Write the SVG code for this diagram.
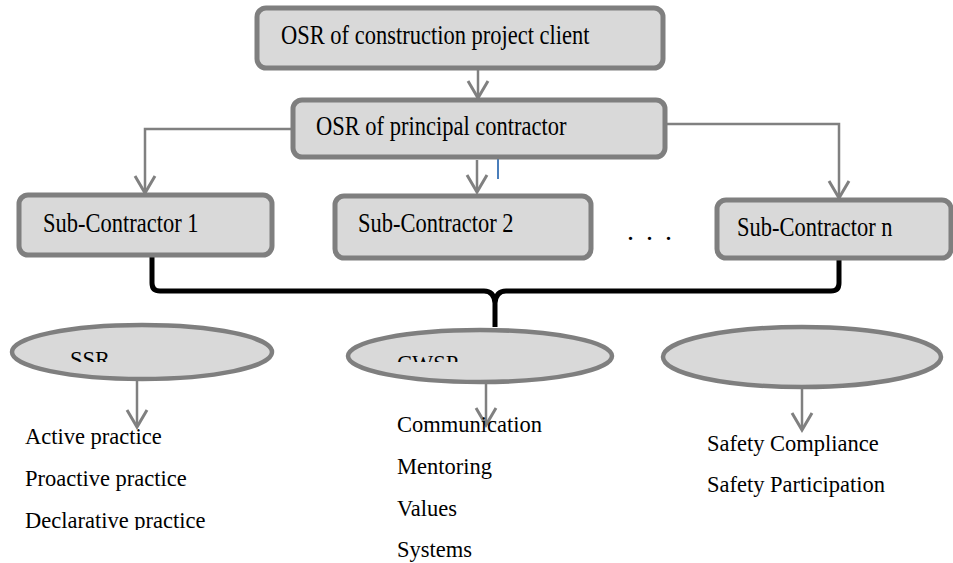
<svg xmlns="http://www.w3.org/2000/svg" width="953" height="563" viewBox="0 0 953 563">
<style>
.box{fill:#d9d9d9;stroke:#7f7f7f;stroke-width:5}
.ell{fill:#d9d9d9;stroke:#7f7f7f;stroke-width:4.5}
.t{font-family:"Liberation Serif","Times New Roman",serif;font-size:22.5px;fill:#000}
.c{fill:none;stroke:#808080;stroke-width:2.5}
.ar{marker-end:url(#v)}
</style>
<defs>
<marker id="v" viewBox="0 0 20 22" refX="18" refY="11" markerWidth="20" markerHeight="22" markerUnits="userSpaceOnUse" orient="auto" overflow="visible">
<path d="M1 1 L18 11 L1 21" fill="none" stroke="#808080" stroke-width="3"/>
</marker>
<clipPath id="cutE"><rect x="0" y="0" width="953" height="362"/></clipPath>
<clipPath id="cutD"><rect x="0" y="0" width="953" height="530"/></clipPath>
</defs>
<g id="connectors">
<path class="c ar" d="M478 68 V98"/>
<path class="c ar" d="M293 129 H145 V193"/>
<path class="c ar" d="M665 124 H839 V198"/>
<path class="c ar" d="M477 160 V192"/>
<path d="M498 159 V179" stroke="#4a7ebb" stroke-width="2" fill="none"/>
<path d="M152 255 V283 Q152 291 160 291 H484 Q494 291 495 303 V327 M495 303 Q496 291 506 291 H831 Q839 291 839 283 V258" fill="none" stroke="#000" stroke-width="5" stroke-linejoin="round"/>
<path class="c ar" d="M137 381 V427"/>
<path class="c ar" d="M486 383 V425"/>
<path class="c ar" d="M802 388 V430"/>
</g>
<g id="client">
<rect class="box" x="257" y="8" width="406" height="60" rx="9"/>
<text class="t" transform="translate(281,44) scale(1,1.18)">OSR of construction project client</text>
</g>
<g id="principal">
<rect class="box" x="293" y="100" width="372" height="57" rx="9"/>
<text class="t" transform="translate(316,135) scale(1,1.18)">OSR of principal contractor</text>
</g>
<g id="sub1">
<rect class="box" x="19" y="195" width="253" height="60" rx="9"/>
<text class="t" transform="translate(43,232) scale(1,1.18)">Sub-Contractor 1</text>
</g>
<g id="sub2">
<rect class="box" x="335" y="196" width="256" height="62" rx="9"/>
<text class="t" transform="translate(358,232) scale(1,1.18)">Sub-Contractor 2</text>
</g>
<g id="dots">
<text class="t" style="font-size:28px" x="627 637 646 656 665" y="240">. . .</text>
</g>
<g id="subn">
<rect class="box" x="717" y="200" width="234" height="58" rx="9"/>
<text class="t" transform="translate(737,236) scale(1,1.18)">Sub-Contractor n</text>
</g>
<g id="ssr">
<ellipse class="ell" cx="142" cy="352" rx="130" ry="27"/>
<text class="t" x="70" y="367" clip-path="url(#cutE)">SSR</text>
</g>
<g id="cwsp">
<ellipse class="ell" cx="480" cy="356" rx="132" ry="26"/>
<text class="t" x="397" y="371" clip-path="url(#cutE)">CWSP</text>
</g>
<g id="third">
<ellipse class="ell" cx="802" cy="357" rx="139" ry="30"/>
</g>
<g id="ssr-list">
<text class="t" x="25" y="444">Active practice</text>
<text class="t" x="25" y="486">Proactive practice</text>
<text class="t" x="25" y="528" clip-path="url(#cutD)">Declarative practice</text>
</g>
<g id="cwsp-list">
<text class="t" x="397" y="432">Communication</text>
<text class="t" x="397" y="474">Mentoring</text>
<text class="t" x="397" y="516">Values</text>
<text class="t" x="397" y="557">Systems</text>
</g>
<g id="third-list">
<text class="t" x="707" y="451">Safety Compliance</text>
<text class="t" x="707" y="492">Safety Participation</text>
</g>
</svg>
